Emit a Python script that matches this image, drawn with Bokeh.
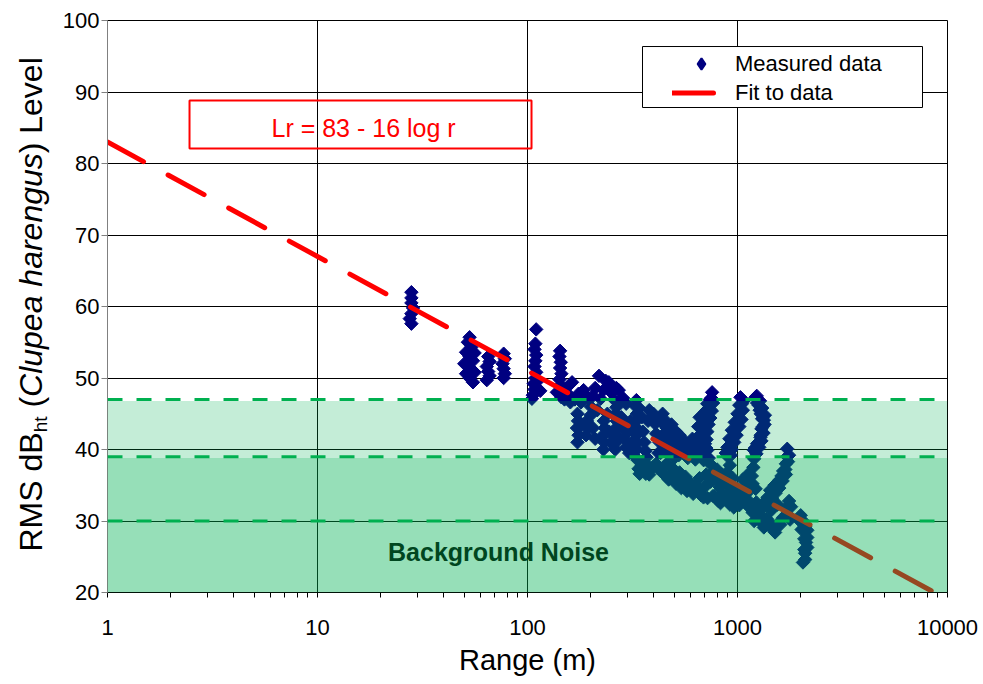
import numpy as np
from bokeh.plotting import figure
from bokeh.layouts import row
from bokeh.models import (FixedTicker, Label, BoxAnnotation, Span, Legend, LegendItem,
                          NumeralTickFormatter)
from bokeh.embed import file_html
from bokeh.resources import INLINE

# Measured RMS levels as (range in m, level in dB_ht) pairs, grouped by range band
pts_25_80m = [
    (28, 62.0), (28, 61.2), (28, 60.5), (28.5, 59.8), (28, 59.0), (27.5, 58.3), (28, 57.6),
    (53, 55.7), (52, 55.0), (54, 54.3), (51, 53.6), (53, 53.0), (55, 52.4), (52, 51.8),
    (54, 51.2), (51, 50.6), (53, 50.0), (55, 49.4), (56, 53.5), (50, 52.0), (56, 50.8),
    (65, 53.0), (66, 52.3), (64, 51.6), (65, 50.9), (66, 50.3), (64, 49.7),
    (77, 53.4), (78, 52.7), (76, 52.0), (77, 51.3), (78, 50.6), (77, 50.0),
]
pts_100_150m = [
    (110, 56.8), (109, 54.8), (108, 54.0), (110, 53.2), (109, 52.4), (108, 51.6), (110, 50.8),
    (109, 50.0), (107, 49.2), (108, 48.4), (106, 47.6), (105, 47.1), (112, 49.6), (115, 48.2),
    (143, 53.8), (142, 53.0), (144, 52.2), (143, 51.4), (145, 50.6), (142, 49.8), (144, 49.0),
    (146, 48.2), (145, 47.3), (138, 48.0), (150, 47.0),
]
pts_150_320m = [
    (152, 48.5), (158, 47.6), (160, 46.6), (163, 49.4), (168, 47.0), (175, 47.8), (180, 46.6),
    (185, 48.3), (195, 47.2), (200, 46.0), (205, 47.5), (210, 48.6), (219, 50.3), (223, 47.1),
    (230, 48.3), (236, 49.6), (244, 49.4), (250, 48.0), (258, 47.0), (265, 48.6), (272, 48.3),
    (280, 47.0), (285, 47.2), (295, 46.4),
    (173, 45.0), (174, 44.0), (172, 43.0), (175, 42.0), (173, 41.0), (182, 43.5),
    (192, 44.0), (193, 43.0), (190, 42.0), (200, 44.8), (205, 43.0), (210, 41.5), (215, 45.5),
    (231, 44.0), (233, 43.0), (229, 42.0), (232, 41.0), (230, 40.0), (240, 45.0), (245, 42.5),
    (250, 41.0), (265, 45.9), (263, 45.0), (266, 44.0), (264, 43.0), (267, 42.0), (265, 41.0),
    (262, 40.0), (280, 44.5), (285, 43.0), (290, 41.5), (295, 40.3), (300, 42.5), (305, 39.5),
    (310, 44.0), (315, 41.0), (320, 39.2),
]
pts_320_700m = [
    (330, 46.9), (328, 46.0), (332, 45.0), (329, 44.0), (331, 43.0), (330, 42.0), (333, 41.0),
    (331, 40.0), (340, 45.8), (350, 44.5), (355, 42.5), (360, 41.0), (365, 39.8), (375, 44.0),
    (380, 45.5), (390, 44.6), (398, 45.0), (405, 43.6), (410, 42.2), (420, 44.2), (425, 41.0),
    (430, 39.5), (440, 45.0), (440, 42.0), (445, 43.5), (450, 40.5), (455, 44.0), (460, 43.0),
    (465, 41.8), (470, 39.5), (480, 42.2), (485, 43.5), (490, 40.8), (500, 41.5), (505, 39.8),
    (510, 42.5), (520, 41.0), (525, 39.2), (530, 42.0), (540, 40.6), (550, 39.5), (560, 41.2),
    (570, 40.0), (580, 38.8), (590, 40.5), (600, 39.3), (610, 41.5), (620, 40.2), (630, 38.6),
    (640, 41.0), (650, 39.8), (660, 42.0), (667, 40.3), (680, 39.0), (690, 38.5),
    (335, 38.5), (338, 37.3), (342, 36.6), (350, 37.8), (369, 38.9), (372, 37.8), (366, 36.6),
    (380, 36.5), (395, 37.5), (410, 38.0), (420, 39.5), (430, 37.0), (444, 37.5), (455, 36.3),
    (460, 38.0), (470, 35.8), (480, 36.5), (490, 37.4), (500, 38.8), (510, 35.2), (520, 35.8),
    (530, 36.8), (540, 34.6), (553, 35.2), (565, 36.2), (575, 34.2), (590, 35.5), (600, 34.5),
    (615, 33.8), (630, 35.0), (650, 34.0), (660, 36.0), (670, 33.6), (689, 33.3),
]
pts_700_1400m = [
    (757, 48.0), (750, 47.2), (740, 47.0), (730, 46.3), (718, 46.4), (712, 45.5), (705, 45.3),
    (698, 44.6), (690, 44.1), (684, 43.0), (686, 42.2), (688, 41.7), (695, 41.2), (700, 40.8),
    (710, 40.2), (718, 39.9), (730, 38.8), (765, 46.5), (755, 45.4), (742, 44.4), (728, 43.5),
    (718, 42.5), (712, 41.4), (660, 44.5), (650, 43.2),
    (700, 34.8), (710, 36.5), (720, 33.2), (740, 38.0), (745, 35.5), (760, 36.8), (765, 33.5),
    (780, 33.5), (790, 35.8), (800, 37.2), (810, 32.8), (820, 34.8), (830, 32.5), (840, 36.5),
    (850, 33.8), (860, 35.5), (880, 33.0), (890, 36.8), (900, 35.0), (910, 33.8), (920, 32.3),
    (940, 34.2), (950, 36.0), (960, 31.9), (980, 33.0), (1000, 34.5), (1020, 32.2),
    (1050, 33.5), (1060, 35.8), (1080, 34.5), (1100, 32.5), (1120, 36.5), (1140, 35.0),
    (1033, 47.3), (1050, 46.4), (1020, 46.2), (1040, 45.3), (1000, 45.0), (1010, 44.0),
    (970, 43.8), (980, 42.8), (940, 42.7), (950, 41.6), (915, 41.5), (920, 40.5), (895, 40.3),
    (880, 39.5), (900, 39.0), (920, 37.8),
    (1070, 46.8), (1060, 45.5), (1045, 44.2), (1020, 43.2), (990, 42.0), (965, 41.0),
    (940, 40.0), (930, 39.2),
    (1218, 47.3), (1240, 46.5), (1260, 46.2), (1275, 45.5), (1290, 45.0), (1310, 44.3),
    (1335, 44.1), (1320, 43.2), (1300, 42.9), (1290, 42.0), (1286, 41.7), (1260, 41.0),
    (1240, 40.8), (1210, 40.2), (1197, 39.9), (1200, 38.7), (1190, 37.5), (1170, 36.3),
    (1180, 35.2), (1220, 34.5),
    (1235, 47.5), (1280, 46.8), (1310, 45.8), (1350, 44.8), (1345, 43.5), (1330, 42.3),
    (1300, 41.2), (1270, 40.3), (1230, 39.4),
]
pts_1400_2300m = [
    (1725, 40.1), (1725, 39.0), (1700, 38.0), (1690, 37.2), (1650, 37.0), (1620, 36.3),
    (1580, 35.7), (1540, 35.2), (1500, 35.0), (1470, 34.2), (1430, 34.3), (1390, 33.3),
    (1360, 32.8), (1330, 32.4), (1290, 31.5),
    (1760, 39.2), (1740, 38.3), (1700, 36.5), (1640, 35.6), (1580, 34.6), (1520, 33.9),
    (1460, 33.2), (1400, 32.3),
    (1100, 33.8), (1130, 32.0), (1150, 32.6), (1180, 31.2), (1200, 30.0), (1230, 32.6),
    (1250, 31.5), (1280, 30.2), (1300, 30.6), (1320, 29.6), (1335, 29.1), (1380, 30.3),
    (1420, 29.8), (1460, 28.9), (1510, 28.4), (1550, 29.6), (1600, 29.5), (1650, 30.5),
    (1700, 31.8), (1725, 31.0), (1760, 32.8), (1800, 32.0), (1780, 30.2), (1450, 31.5),
    (1550, 32.3),
    (2000, 30.8), (1950, 30.2), (2050, 30.0), (2100, 29.2), (2020, 28.8), (2150, 28.7),
    (2150, 27.7), (2080, 27.5), (2120, 27.0), (2150, 26.3), (2080, 26.0), (2100, 25.5),
    (2100, 24.6), (2050, 24.2),
]
measured = pts_25_80m + pts_100_150m + pts_150_320m + pts_320_700m + pts_700_1400m + pts_1400_2300m
range_m = [r for r, _ in measured]
level_db = [lv for _, lv in measured]

# Fitted spreading law: Lr = 83 - 16 log r
fit_intercept = 83
fit_slope = 16

# Background noise shading (tops of the two bands) and dashed threshold levels
noise_band_tops = [46.8, 38.8]
threshold_levels = [47, 39, 30]

x_major = [1, 10, 100, 1000, 10000]
x_minor = [m * 10 ** d for d in range(4) for m in range(2, 10)]
y_major = [20, 30, 40, 50, 60, 70, 80, 90, 100]

FONT = "Liberation Sans"
GREEN = "#00B050"
NAVY = "#000080"
LEFT_W = 55
FRAME_TOP, FRAME_BOTTOM = 20, 592

p = figure(width=983 - LEFT_W, height=684, x_axis_type="log", x_range=(1, 10000),
           y_range=(20, 100), output_backend="svg", toolbar_location=None,
           min_border_left=107 - LEFT_W, min_border_right=36, min_border_top=FRAME_TOP,
           min_border_bottom=684 - FRAME_BOTTOM)
p.background_fill_color = "white"
p.border_fill_color = "white"
p.outline_line_color = "black"
p.outline_line_width = 1

# axes
p.xaxis.ticker = FixedTicker(ticks=x_major, minor_ticks=x_minor)
p.xaxis.formatter = NumeralTickFormatter(format="0")
p.yaxis.ticker = FixedTicker(ticks=y_major, minor_ticks=[])
for ax in (p.xaxis[0], p.yaxis[0]):
    ax.major_label_text_font = FONT
    ax.major_label_text_font_size = "22px"
    ax.major_label_text_color = "black"
    ax.major_tick_in = 0
    ax.minor_tick_in = 0
    ax.major_tick_line_color = "black"
    ax.minor_tick_line_color = "black"
p.xaxis.major_tick_out = 5
p.xaxis.minor_tick_out = 5
p.xaxis.major_label_standoff = 22
p.xaxis.axis_line_color = "black"
p.xaxis.axis_label = "Range (m)"
p.xaxis.axis_label_text_font = FONT
p.xaxis.axis_label_text_font_size = "29px"
p.xaxis.axis_label_text_font_style = "normal"
p.xaxis.axis_label_text_color = "black"
p.xaxis.axis_label_standoff = 6
p.yaxis.major_tick_out = 6
p.yaxis.major_label_standoff = 2
p.yaxis.axis_line_color = "#808080"
p.yaxis.major_tick_line_color = "#808080"

p.xgrid.ticker = FixedTicker(ticks=x_major)
p.ygrid.ticker = FixedTicker(ticks=y_major)
for g in (p.xgrid[0], p.ygrid[0]):
    g.grid_line_color = "black"
    g.grid_line_width = 1

# legend key for the measurements: a diamond drawn on the same points, hidden under them
key_pts = p.scatter(range_m, level_db, marker="diamond", size=8, fill_color=NAVY,
                    line_color=NAVY, line_width=2)
# measurements as square diamonds
p.scatter(range_m, level_db, marker="square", size=9.5, angle=np.pi / 4,
          fill_color=NAVY, line_color=NAVY)
# fitted line
fit_r = np.array([1.0, 10 ** ((fit_intercept - 20) / fit_slope)])
fit_l = fit_intercept - fit_slope * np.log10(fit_r)
fit = p.line(fit_r, fit_l, line_color="#FF0000", line_width=5, line_dash="41 28",
             line_cap="round")

# background noise shading drawn over the data
for top in noise_band_tops:
    p.add_layout(BoxAnnotation(bottom=20, top=top, fill_color=GREEN, fill_alpha=0.23,
                               line_color=None))
for lvl in threshold_levels:
    p.add_layout(Span(location=lvl, dimension="width", line_color=GREEN, line_width=3,
                      line_dash="15 14"))

p.add_layout(Label(x=391, y=41, x_units="screen", y_units="screen", text="Background Noise",
                   text_font=FONT, text_font_size="25px", text_font_style="bold",
                   text_color="#00461f", text_align="center", text_baseline="middle"))

# equation box
p.add_layout(BoxAnnotation(left=2.458, right=104.5, top=88.81, bottom=82.10,
                           fill_color=None, fill_alpha=0, line_color="#FF0000",
                           line_alpha=1, line_width=2))
p.add_layout(Label(x=164, y=465, x_units="screen", y_units="screen",
                   text="Lr = 83 - 16 log r", text_font=FONT, text_font_size="25px",
                   text_color="#FF0000", text_align="left", text_baseline="middle"))

# legend frame and entries
p.add_layout(BoxAnnotation(left=352.9, right=7603, top=96.36, bottom=87.83,
                           fill_color="white", fill_alpha=1, line_color="black",
                           line_alpha=1, line_width=1))
legend = Legend(items=[LegendItem(label="Measured data", renderers=[key_pts]),
                       LegendItem(label="Fit to data", renderers=[fit])],
                location=(565, 485), padding=0, margin=0, spacing=0,
                glyph_width=58, glyph_height=29, label_height=29, label_standoff=5,
                label_text_font=FONT, label_text_font_size="22px", label_text_color="black",
                background_fill_alpha=0, border_line_color=None)
p.add_layout(legend, "center")

# y-axis title, built from pieces so the subscript and the italic species name can differ
title_fig = figure(width=LEFT_W, height=684, x_range=(0, 1), y_range=(0, 1),
                   output_backend="svg", toolbar_location=None, min_border=0,
                   x_axis_location=None, y_axis_location=None)
title_fig.outline_line_color = None
title_fig.background_fill_color = "white"
title_fig.border_fill_color = "white"
title_fig.grid.visible = False

ARIAL = {"R": .722, "M": .833, "S": .667, " ": .278, "d": .556, "B": .667, "h": .556,
         "t": .278, "(": .333, ")": .333, "C": .722, "l": .222, "u": .556, "p": .556,
         "e": .556, "a": .556, "r": .333, "n": .556, "g": .556, "s": .5, "L": .556, "v": .5}


def text_width(s, size):
    return sum(ARIAL[c] for c in s) * size


F_TITLE = 32
F_SUB = 19
y_pos = 551  # canvas y where the title starts (it reads upwards)
pieces = [("RMS dB", F_TITLE, "normal", 30), ("ht", F_SUB, "normal", 40),
          (" ", F_TITLE, None, 0), ("(", F_TITLE, "normal", 30),
          ("Clupea harengus", F_TITLE, "italic", 30), (")", F_TITLE, "normal", 30),
          (" ", F_TITLE, None, 0), ("Level", F_TITLE, "normal", 30)]
for txt, size, style, cx in pieces:
    if style is not None:
        title_fig.add_layout(Label(x=cx, y=FRAME_BOTTOM - y_pos, x_units="screen",
                                   y_units="screen", text=txt, angle=np.pi / 2,
                                   text_font=FONT, text_font_size=f"{size}px",
                                   text_font_style=style, text_color="black",
                                   text_align="left", text_baseline="middle"))
    y_pos -= text_width(txt, size)

layout = row(title_fig, p)
open("out.html", "w").write(file_html(layout, INLINE))
